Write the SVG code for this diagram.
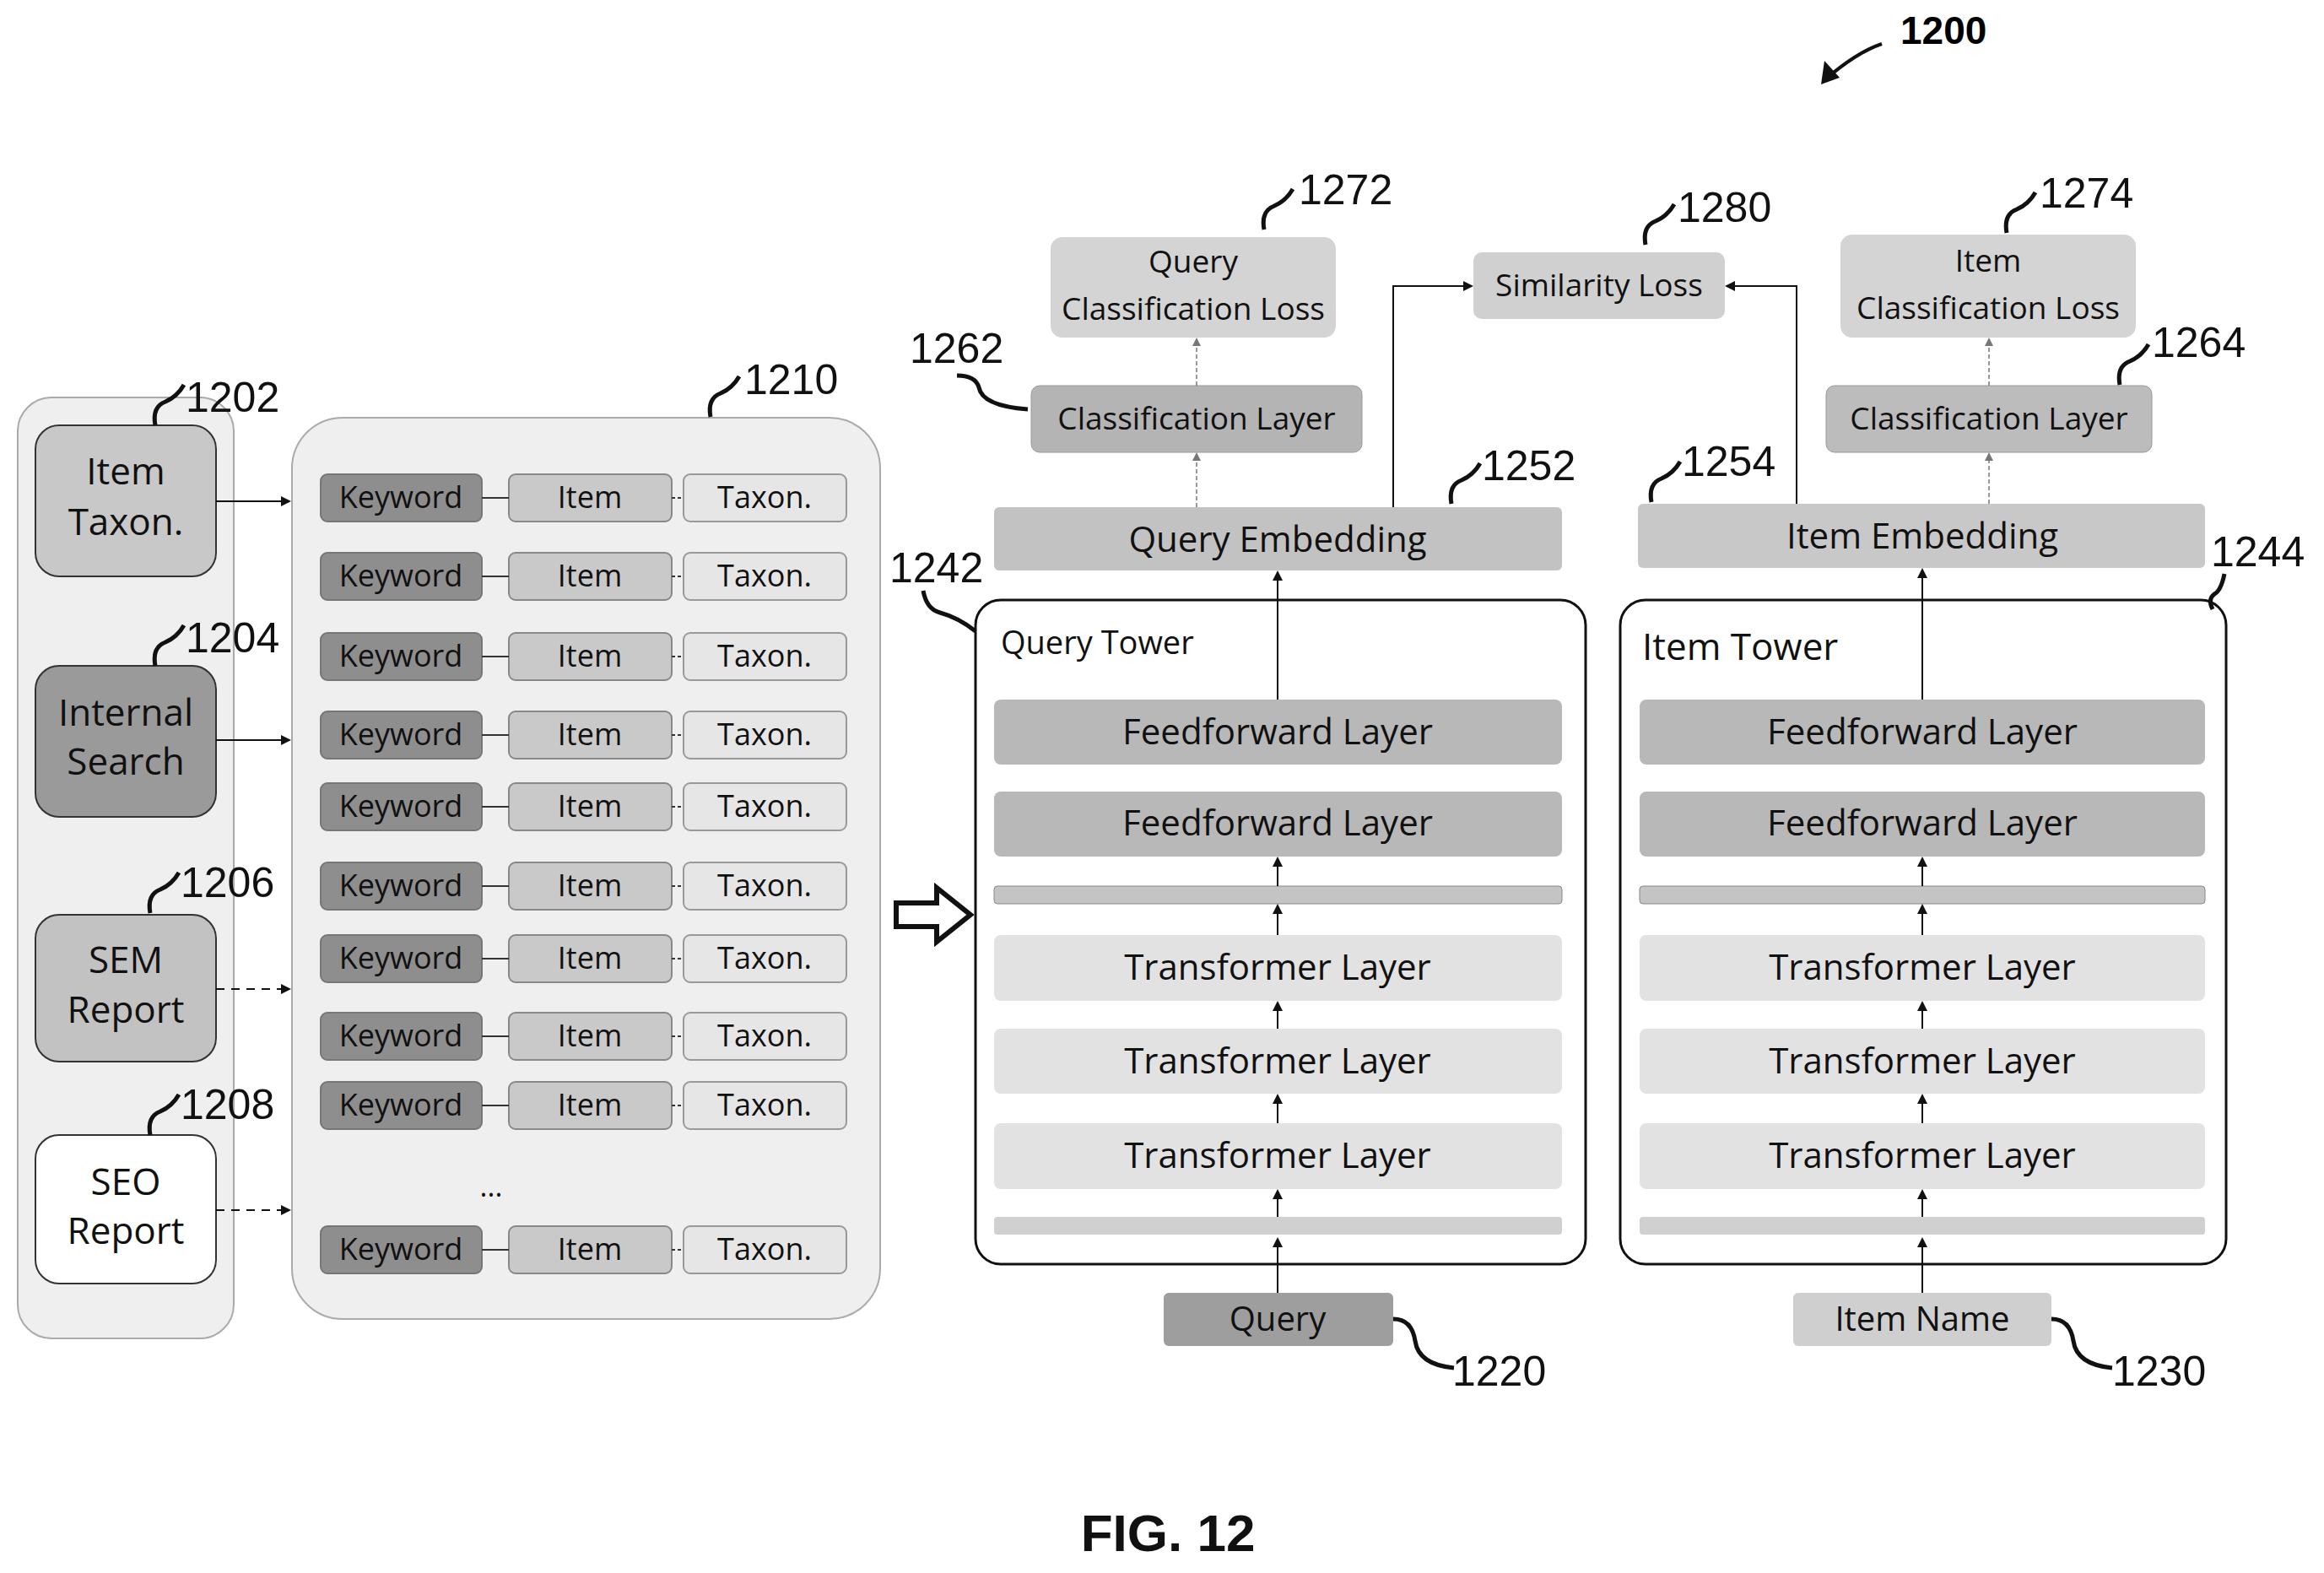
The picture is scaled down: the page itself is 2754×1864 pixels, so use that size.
<svg xmlns="http://www.w3.org/2000/svg" width="2754" height="1864" viewBox="0 0 2754 1864">
<style>
.t{font-family:"Open Sans","DejaVu Sans",sans-serif;fill:#111;text-anchor:middle}
.L{font-family:"Liberation Sans",Arial,sans-serif;fill:#111;font-size:50px}
.b{stroke:#666;stroke-width:2}
.c{fill:none;stroke:#111;stroke-width:2}
.lead{fill:none;stroke:#111;stroke-width:5}
.kw{fill:#8e8e8e;stroke:#777;stroke-width:2}
.it{fill:#c9c9c9;stroke:#888;stroke-width:2}
.tx{fill:#e6e6e6;stroke:#999;stroke-width:2}
</style>
<defs>
<marker id="a" markerWidth="12" markerHeight="12" refX="10" refY="6" orient="auto" markerUnits="userSpaceOnUse"><path d="M0,0 L12,6 L0,12 z" fill="#111"/></marker>
<marker id="ag" markerWidth="10" markerHeight="10" refX="8" refY="5" orient="auto" markerUnits="userSpaceOnUse"><path d="M0,0 L10,5 L0,10 z" fill="#777"/></marker>
</defs>
<rect width="2754" height="1864" fill="#fff"/>

<text x="2252" y="52" style="font-family:'Liberation Sans',Arial,sans-serif;font-weight:bold;font-size:46px">1200</text>
<path d="M2230,52 Q2200,62 2162,95" class="lead" style="stroke-width:4"/>
<path d="M2158,100 l4,-28 l18,20 z" fill="#111"/>

<g id="sources">
<rect x="21" y="471" width="256" height="1115" rx="40" fill="#efefef" stroke="#aaa" stroke-width="2"/>
</g>
<g id="n1202"><rect x="42" y="504" width="214" height="179" rx="28" fill="#c8c8c8" style="stroke:#333;stroke-width:2"/>
<text class="t" x="149" y="574" font-size="44">Item</text><text class="t" x="149" y="634" font-size="44">Taxon.</text></g>
<g id="n1204"><rect x="42" y="789" width="214" height="179" rx="28" fill="#9a9a9a" style="stroke:#333;stroke-width:2"/>
<text class="t" x="149" y="860" font-size="44">Internal</text><text class="t" x="149" y="918" font-size="44">Search</text></g>
<g id="n1206"><rect x="42" y="1084" width="214" height="174" rx="28" fill="#c2c2c2" style="stroke:#333;stroke-width:2"/>
<text class="t" x="149" y="1153" font-size="44">SEM</text><text class="t" x="149" y="1212" font-size="44">Report</text></g>
<g id="n1208"><rect x="42" y="1345" width="214" height="176" rx="28" fill="#fff" style="stroke:#333;stroke-width:2"/>
<text class="t" x="149" y="1416" font-size="44">SEO</text><text class="t" x="149" y="1474" font-size="44">Report</text></g>

<g id="n1210">
<rect x="346" y="495" width="697" height="1068" rx="60" fill="#efefef" stroke="#aaa" stroke-width="2"/>
<g id="rows">
<g transform="translate(0,590)"><rect class="kw" x="380" y="-28" width="191" height="56" rx="8"/><rect class="it" x="603" y="-28" width="193" height="56" rx="8"/><rect class="tx" x="810" y="-28" width="193" height="56" rx="8"/><line x1="571" y1="0" x2="603" y2="0" stroke="#333" stroke-width="2"/><line x1="796" y1="0" x2="810" y2="0" stroke="#333" stroke-width="2" stroke-dasharray="4,3"/><text class="t" x="475" y="12" font-size="36">Keyword</text><text class="t" x="699" y="12" font-size="36">Item</text><text class="t" x="906" y="12" font-size="36">Taxon.</text></g>
<g transform="translate(0,683)"><rect class="kw" x="380" y="-28" width="191" height="56" rx="8"/><rect class="it" x="603" y="-28" width="193" height="56" rx="8"/><rect class="tx" x="810" y="-28" width="193" height="56" rx="8"/><line x1="571" y1="0" x2="603" y2="0" stroke="#333" stroke-width="2"/><line x1="796" y1="0" x2="810" y2="0" stroke="#333" stroke-width="2" stroke-dasharray="4,3"/><text class="t" x="475" y="12" font-size="36">Keyword</text><text class="t" x="699" y="12" font-size="36">Item</text><text class="t" x="906" y="12" font-size="36">Taxon.</text></g>
<g transform="translate(0,778)"><rect class="kw" x="380" y="-28" width="191" height="56" rx="8"/><rect class="it" x="603" y="-28" width="193" height="56" rx="8"/><rect class="tx" x="810" y="-28" width="193" height="56" rx="8"/><line x1="571" y1="0" x2="603" y2="0" stroke="#333" stroke-width="2"/><line x1="796" y1="0" x2="810" y2="0" stroke="#333" stroke-width="2" stroke-dasharray="4,3"/><text class="t" x="475" y="12" font-size="36">Keyword</text><text class="t" x="699" y="12" font-size="36">Item</text><text class="t" x="906" y="12" font-size="36">Taxon.</text></g>
<g transform="translate(0,871)"><rect class="kw" x="380" y="-28" width="191" height="56" rx="8"/><rect class="it" x="603" y="-28" width="193" height="56" rx="8"/><rect class="tx" x="810" y="-28" width="193" height="56" rx="8"/><line x1="571" y1="0" x2="603" y2="0" stroke="#333" stroke-width="2"/><line x1="796" y1="0" x2="810" y2="0" stroke="#333" stroke-width="2" stroke-dasharray="4,3"/><text class="t" x="475" y="12" font-size="36">Keyword</text><text class="t" x="699" y="12" font-size="36">Item</text><text class="t" x="906" y="12" font-size="36">Taxon.</text></g>
<g transform="translate(0,956)"><rect class="kw" x="380" y="-28" width="191" height="56" rx="8"/><rect class="it" x="603" y="-28" width="193" height="56" rx="8"/><rect class="tx" x="810" y="-28" width="193" height="56" rx="8"/><line x1="571" y1="0" x2="603" y2="0" stroke="#333" stroke-width="2"/><line x1="796" y1="0" x2="810" y2="0" stroke="#333" stroke-width="2" stroke-dasharray="4,3"/><text class="t" x="475" y="12" font-size="36">Keyword</text><text class="t" x="699" y="12" font-size="36">Item</text><text class="t" x="906" y="12" font-size="36">Taxon.</text></g>
<g transform="translate(0,1050)"><rect class="kw" x="380" y="-28" width="191" height="56" rx="8"/><rect class="it" x="603" y="-28" width="193" height="56" rx="8"/><rect class="tx" x="810" y="-28" width="193" height="56" rx="8"/><line x1="571" y1="0" x2="603" y2="0" stroke="#333" stroke-width="2"/><line x1="796" y1="0" x2="810" y2="0" stroke="#333" stroke-width="2" stroke-dasharray="4,3"/><text class="t" x="475" y="12" font-size="36">Keyword</text><text class="t" x="699" y="12" font-size="36">Item</text><text class="t" x="906" y="12" font-size="36">Taxon.</text></g>
<g transform="translate(0,1136)"><rect class="kw" x="380" y="-28" width="191" height="56" rx="8"/><rect class="it" x="603" y="-28" width="193" height="56" rx="8"/><rect class="tx" x="810" y="-28" width="193" height="56" rx="8"/><line x1="571" y1="0" x2="603" y2="0" stroke="#333" stroke-width="2"/><line x1="796" y1="0" x2="810" y2="0" stroke="#333" stroke-width="2" stroke-dasharray="4,3"/><text class="t" x="475" y="12" font-size="36">Keyword</text><text class="t" x="699" y="12" font-size="36">Item</text><text class="t" x="906" y="12" font-size="36">Taxon.</text></g>
<g transform="translate(0,1228)"><rect class="kw" x="380" y="-28" width="191" height="56" rx="8"/><rect class="it" x="603" y="-28" width="193" height="56" rx="8"/><rect class="tx" x="810" y="-28" width="193" height="56" rx="8"/><line x1="571" y1="0" x2="603" y2="0" stroke="#333" stroke-width="2"/><line x1="796" y1="0" x2="810" y2="0" stroke="#333" stroke-width="2" stroke-dasharray="4,3"/><text class="t" x="475" y="12" font-size="36">Keyword</text><text class="t" x="699" y="12" font-size="36">Item</text><text class="t" x="906" y="12" font-size="36">Taxon.</text></g>
<g transform="translate(0,1310)"><rect class="kw" x="380" y="-28" width="191" height="56" rx="8"/><rect class="it" x="603" y="-28" width="193" height="56" rx="8"/><rect class="tx" x="810" y="-28" width="193" height="56" rx="8"/><line x1="571" y1="0" x2="603" y2="0" stroke="#333" stroke-width="2"/><line x1="796" y1="0" x2="810" y2="0" stroke="#333" stroke-width="2" stroke-dasharray="4,3"/><text class="t" x="475" y="12" font-size="36">Keyword</text><text class="t" x="699" y="12" font-size="36">Item</text><text class="t" x="906" y="12" font-size="36">Taxon.</text></g>
<text class="t" x="582" y="1418" font-size="34">...</text>
<g transform="translate(0,1481)"><rect class="kw" x="380" y="-28" width="191" height="56" rx="8"/><rect class="it" x="603" y="-28" width="193" height="56" rx="8"/><rect class="tx" x="810" y="-28" width="193" height="56" rx="8"/><line x1="571" y1="0" x2="603" y2="0" stroke="#333" stroke-width="2"/><line x1="796" y1="0" x2="810" y2="0" stroke="#333" stroke-width="2" stroke-dasharray="4,3"/><text class="t" x="475" y="12" font-size="36">Keyword</text><text class="t" x="699" y="12" font-size="36">Item</text><text class="t" x="906" y="12" font-size="36">Taxon.</text></g>
</g>
</g>

<path d="M1062,1070 L1110,1070 L1110,1052 L1150,1084 L1110,1116 L1110,1098 L1062,1098 z" fill="#fff" stroke="#111" stroke-width="6" stroke-linejoin="miter"/>

<g id="n1242">
<rect x="1156" y="711" width="723" height="787" rx="30" fill="#fff" stroke="#111" stroke-width="3"/>
<text x="1186" y="775" style="font-family:'Open Sans',sans-serif;font-size:38px;fill:#111">Query Tower</text>
<rect x="1178" y="829" width="673" height="77" rx="8" fill="#b8b8b8"/><text class="t" x="1514" y="882" font-size="42">Feedforward Layer</text>
<rect x="1178" y="938" width="673" height="77" rx="8" fill="#b8b8b8"/><text class="t" x="1514" y="990" font-size="42">Feedforward Layer</text>
<rect x="1178" y="1050" width="673" height="21" rx="4" fill="#c4c4c4" stroke="#888"/>
<rect x="1178" y="1108" width="673" height="78" rx="8" fill="#e2e2e2"/><text class="t" x="1514" y="1161" font-size="42">Transformer Layer</text>
<rect x="1178" y="1219" width="673" height="77" rx="8" fill="#e2e2e2"/><text class="t" x="1514" y="1272" font-size="42">Transformer Layer</text>
<rect x="1178" y="1331" width="673" height="78" rx="8" fill="#e2e2e2"/><text class="t" x="1514" y="1384" font-size="42">Transformer Layer</text>
<rect x="1178" y="1442" width="673" height="21" rx="4" fill="#d0d0d0"/>
</g>
<g id="n1244">
<rect x="1920" y="711" width="718" height="787" rx="30" fill="#fff" stroke="#111" stroke-width="3"/>
<text x="1946" y="782" style="font-family:'Open Sans',sans-serif;font-size:44px;fill:#111">Item Tower</text>
<rect x="1943" y="829" width="670" height="77" rx="8" fill="#b8b8b8"/><text class="t" x="2278" y="882" font-size="42">Feedforward Layer</text>
<rect x="1943" y="938" width="670" height="77" rx="8" fill="#b8b8b8"/><text class="t" x="2278" y="990" font-size="42">Feedforward Layer</text>
<rect x="1943" y="1050" width="670" height="21" rx="4" fill="#c4c4c4" stroke="#888"/>
<rect x="1943" y="1108" width="670" height="78" rx="8" fill="#e2e2e2"/><text class="t" x="2278" y="1161" font-size="42">Transformer Layer</text>
<rect x="1943" y="1219" width="670" height="77" rx="8" fill="#e2e2e2"/><text class="t" x="2278" y="1272" font-size="42">Transformer Layer</text>
<rect x="1943" y="1331" width="670" height="78" rx="8" fill="#e2e2e2"/><text class="t" x="2278" y="1384" font-size="42">Transformer Layer</text>
<rect x="1943" y="1442" width="670" height="21" rx="4" fill="#d0d0d0"/>
</g>

<g id="n1252"><rect x="1178" y="601" width="673" height="75" rx="6" fill="#c2c2c2"/><text class="t" x="1514" y="654" font-size="42">Query Embedding</text></g>
<g id="n1254"><rect x="1941" y="597" width="672" height="76" rx="6" fill="#c8c8c8"/><text class="t" x="2278" y="650" font-size="42">Item Embedding</text></g>
<g id="n1220"><rect x="1379" y="1532" width="272" height="63" rx="6" fill="#9e9e9e"/><text class="t" x="1514" y="1577" font-size="40">Query</text></g>
<g id="n1230"><rect x="2125" y="1532" width="306" height="63" rx="6" fill="#cfcfcf"/><text class="t" x="2278" y="1577" font-size="40">Item Name</text></g>
<g id="n1262"><rect x="1222" y="457" width="392" height="79" rx="10" fill="#b4b4b4" stroke="#999"/><text class="t" x="1418" y="509" font-size="37">Classification Layer</text></g>
<g id="n1264"><rect x="2164" y="457" width="386" height="79" rx="10" fill="#bcbcbc" stroke="#999"/><text class="t" x="2357" y="509" font-size="37">Classification Layer</text></g>
<g id="n1272"><rect x="1245" y="281" width="338" height="119" rx="14" fill="#d4d4d4"/><text class="t" x="1414" y="323" font-size="37">Query</text><text class="t" x="1414" y="379" font-size="37">Classification Loss</text></g>
<g id="n1274"><rect x="2181" y="278" width="350" height="122" rx="14" fill="#d4d4d4"/><text class="t" x="2356" y="322" font-size="37">Item</text><text class="t" x="2356" y="378" font-size="37">Classification Loss</text></g>
<g id="n1280"><rect x="1746" y="299" width="298" height="79" rx="10" fill="#d0d0d0"/><text class="t" x="1895" y="351" font-size="37">Similarity Loss</text></g>

<g id="connectors">
<line x1="256" y1="594" x2="343" y2="594" class="c" marker-end="url(#a)"/>
<line x1="256" y1="877" x2="343" y2="877" class="c" marker-end="url(#a)"/>
<line x1="256" y1="1172" x2="343" y2="1172" class="c" stroke-dasharray="10,8" marker-end="url(#a)"/>
<line x1="256" y1="1434" x2="343" y2="1434" class="c" stroke-dasharray="10,8" marker-end="url(#a)"/>
<line x1="1514" y1="1532" x2="1514" y2="1468" class="c" marker-end="url(#a)"/>
<line x1="1514" y1="1442" x2="1514" y2="1411" class="c" marker-end="url(#a)"/>
<line x1="1514" y1="1331" x2="1514" y2="1298" class="c" marker-end="url(#a)"/>
<line x1="1514" y1="1219" x2="1514" y2="1188" class="c" marker-end="url(#a)"/>
<line x1="1514" y1="1108" x2="1514" y2="1073" class="c" marker-end="url(#a)"/>
<line x1="1514" y1="1050" x2="1514" y2="1017" class="c" marker-end="url(#a)"/>
<line x1="1514" y1="829" x2="1514" y2="678" class="c" marker-end="url(#a)"/>
<line x1="2278" y1="1532" x2="2278" y2="1468" class="c" marker-end="url(#a)"/>
<line x1="2278" y1="1442" x2="2278" y2="1411" class="c" marker-end="url(#a)"/>
<line x1="2278" y1="1331" x2="2278" y2="1298" class="c" marker-end="url(#a)"/>
<line x1="2278" y1="1219" x2="2278" y2="1188" class="c" marker-end="url(#a)"/>
<line x1="2278" y1="1108" x2="2278" y2="1073" class="c" marker-end="url(#a)"/>
<line x1="2278" y1="1050" x2="2278" y2="1017" class="c" marker-end="url(#a)"/>
<line x1="2278" y1="829" x2="2278" y2="675" class="c" marker-end="url(#a)"/>
<line x1="1418" y1="601" x2="1418" y2="538" stroke="#777" stroke-width="1.5" stroke-dasharray="5,3" marker-end="url(#ag)"/>
<line x1="1418" y1="457" x2="1418" y2="402" stroke="#777" stroke-width="1.5" stroke-dasharray="5,3" marker-end="url(#ag)"/>
<line x1="2357" y1="597" x2="2357" y2="538" stroke="#777" stroke-width="1.5" stroke-dasharray="5,3" marker-end="url(#ag)"/>
<line x1="2357" y1="457" x2="2357" y2="402" stroke="#777" stroke-width="1.5" stroke-dasharray="5,3" marker-end="url(#ag)"/>
<path d="M1651,601 L1651,339 L1744,339" class="c" marker-end="url(#a)"/>
<path d="M2129,597 L2129,339 L2046,339" class="c" marker-end="url(#a)"/>
</g>

<g id="refs">
<text class="L" x="220" y="488">1202</text><path d="M184,504 q-4,-22 12,-28 q14,-6 22,-20" class="lead"/>
<text class="L" x="220" y="773">1204</text><path d="M184,789 q-4,-22 12,-28 q14,-6 22,-20" class="lead"/>
<text class="L" x="214" y="1063">1206</text><path d="M178,1082 q-4,-22 12,-28 q14,-6 22,-20" class="lead"/>
<text class="L" x="214" y="1326">1208</text><path d="M178,1345 q-4,-22 12,-28 q14,-6 22,-20" class="lead"/>
<text class="L" x="882" y="467">1210</text><path d="M842,494 q-4,-22 12,-28 q14,-6 22,-20" class="lead"/>
<text class="L" x="1054" y="690">1242</text><path d="M1094,700 q4,22 20,26 q22,6 42,22" class="lead"/>
<text class="L" x="2620" y="671">1244</text><path d="M2636,680 q-4,20 -12,24 q-8,6 -2,18" class="lead"/>
<text class="L" x="1756" y="569">1252</text><path d="M1720,597 q-4,-22 12,-28 q14,-6 22,-20" class="lead"/>
<text class="L" x="1993" y="564">1254</text><path d="M1957,595 q-4,-22 12,-28 q14,-6 22,-20" class="lead"/>
<text class="L" x="1078" y="430">1262</text><path d="M1134,445 q22,0 26,14 q4,22 58,26" class="lead"/>
<text class="L" x="2550" y="423">1264</text><path d="M2512,456 q-4,-22 12,-28 q14,-6 22,-20" class="lead"/>
<text class="L" x="1539" y="242">1272</text><path d="M1498,272 q-4,-22 12,-28 q14,-6 22,-20" class="lead"/>
<text class="L" x="1988" y="263">1280</text><path d="M1950,290 q-4,-22 12,-28 q14,-6 22,-20" class="lead"/>
<text class="L" x="2417" y="246">1274</text><path d="M2378,276 q-4,-22 12,-28 q14,-6 22,-20" class="lead"/>
<text class="L" x="1721" y="1642">1220</text><path d="M1651,1563 q22,0 26,26 q4,28 46,32" class="lead"/>
<text class="L" x="2503" y="1642">1230</text><path d="M2431,1563 q22,0 26,26 q4,28 46,32" class="lead"/>
</g>

<text x="1384" y="1838" style="font-family:'Liberation Sans',Arial,sans-serif;font-weight:bold;font-size:62px;text-anchor:middle;fill:#111">FIG. 12</text>
</svg>
